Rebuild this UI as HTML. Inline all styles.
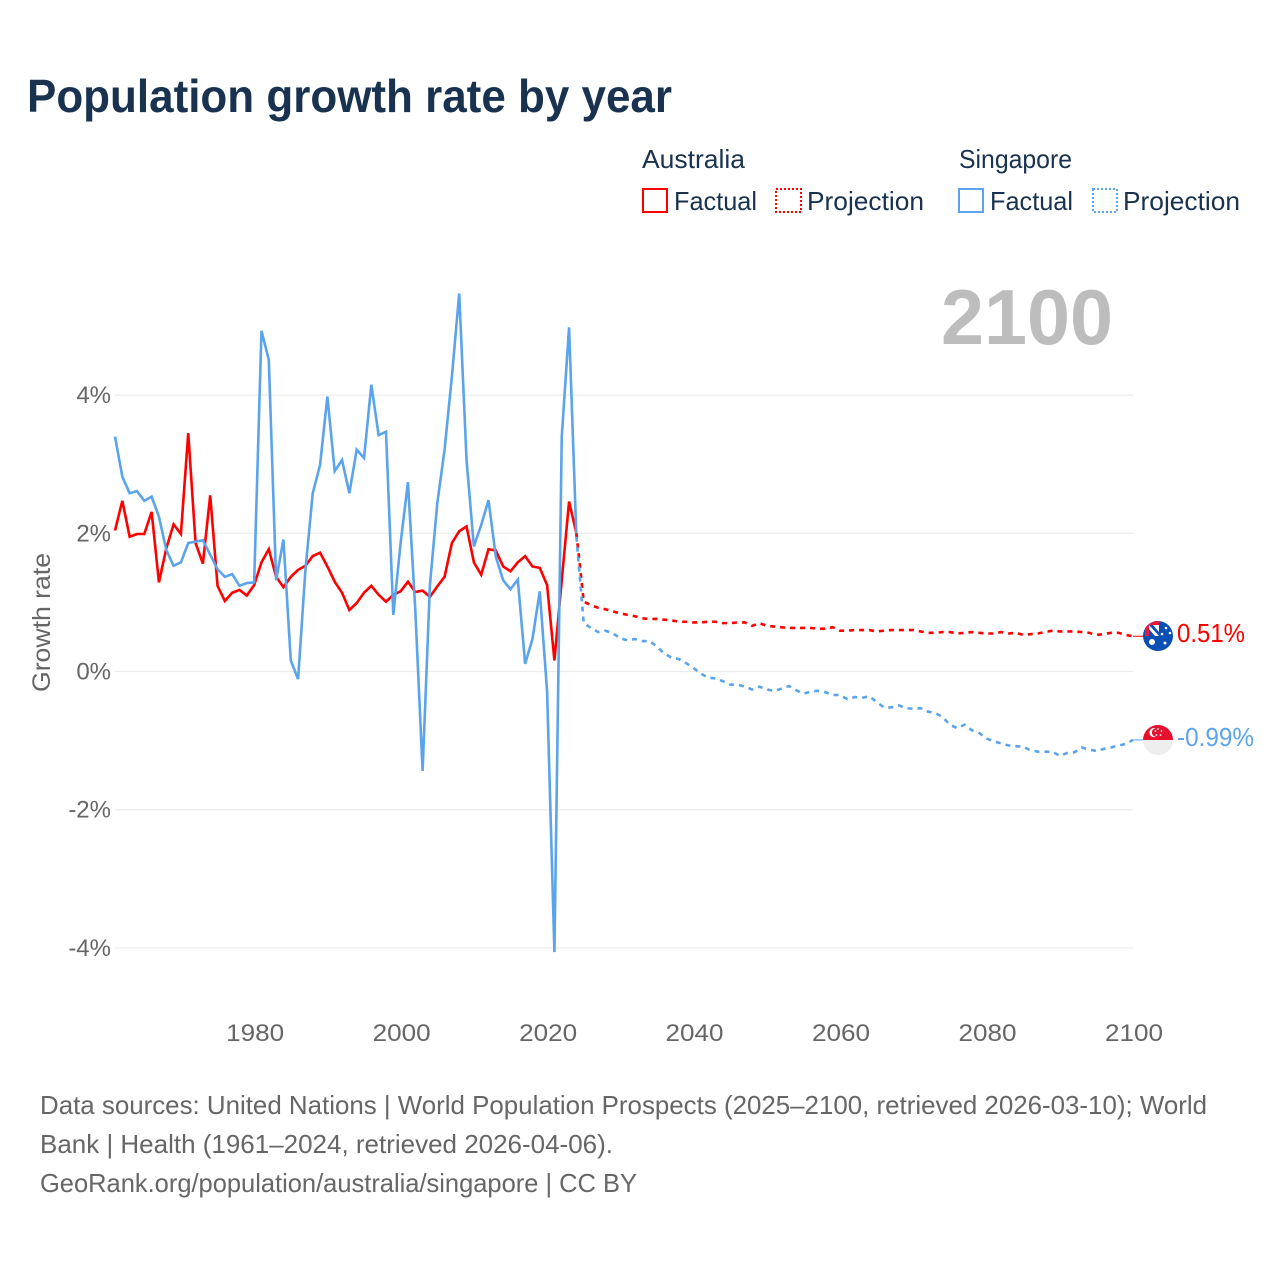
<!DOCTYPE html>
<html lang="en">
<head>
<meta charset="utf-8">
<title>Population growth rate by year</title>
<style>
html,body{margin:0;padding:0;background:#fff;width:1280px;height:1280px;overflow:hidden}
svg{display:block}
text{font-family:"Liberation Sans",sans-serif}
</style>
</head>
<body>
<svg id="chart" xmlns="http://www.w3.org/2000/svg" width="1280" height="1280" viewBox="0 0 1280 1280">
  <defs>
    <clipPath id="clip-au"><circle cx="1158" cy="636" r="15"/></clipPath>
    <clipPath id="clip-sg"><circle cx="1158" cy="740" r="15"/></clipPath>
  </defs>
  <rect x="0" y="0" width="1280" height="1280" fill="#fff"/>
  <text x="27" y="112" font-size="46" font-weight="700" fill="#18324f" textLength="645" lengthAdjust="spacingAndGlyphs">Population growth rate by year</text>

  <g font-size="26" fill="#18324f">
    <text x="642" y="168" textLength="103" lengthAdjust="spacingAndGlyphs">Australia</text>
    <rect x="643" y="189" width="24" height="23" fill="none" stroke="#ff0000" stroke-width="2"/>
    <text x="674" y="210" textLength="83" lengthAdjust="spacingAndGlyphs">Factual</text>
    <rect x="776" y="189" width="25" height="23" fill="none" stroke="#ff0000" stroke-width="2" stroke-dasharray="2 2"/>
    <text x="807" y="210" textLength="117" lengthAdjust="spacingAndGlyphs">Projection</text>
    <text x="959" y="168" textLength="113" lengthAdjust="spacingAndGlyphs">Singapore</text>
    <rect x="959" y="189" width="24" height="23" fill="none" stroke="#5ba4ec" stroke-width="2"/>
    <text x="990" y="210" textLength="83" lengthAdjust="spacingAndGlyphs">Factual</text>
    <rect x="1093" y="189" width="24" height="23" fill="none" stroke="#5ba4ec" stroke-width="2" stroke-dasharray="2 2"/>
    <text x="1123" y="210" textLength="117" lengthAdjust="spacingAndGlyphs">Projection</text>
  </g>

  <text x="941" y="344" font-size="78" font-weight="700" fill="#bdbdbd" textLength="172" lengthAdjust="spacingAndGlyphs">2100</text>
  <text transform="translate(50,692) rotate(-90)" font-size="25" fill="#666" textLength="139" lengthAdjust="spacingAndGlyphs">Growth rate</text>

  <g id="grid"></g>
  <g id="y-axis"></g>
  <g id="x-axis"></g>
  <g id="series"></g>

  <g clip-path="url(#clip-au)">
    <rect x="1143" y="621" width="30" height="30" fill="#0a50b4"/>
    <rect x="1145" y="621" width="14" height="15" fill="#e8173f"/>
    <rect x="1149" y="625" width="10" height="11" fill="#fff"/>
    <path d="M1149 625 L1159 636 V632 L1153 625 Z" fill="#0a50b4"/>
    <path d="M1149 629 V636 H1155 Z" fill="#0a50b4"/>
    <circle cx="1152" cy="642" r="3" fill="#fff"/>
    <circle cx="1166" cy="628" r="1.3" fill="#fff"/>
    <circle cx="1162" cy="634" r="1.3" fill="#fff"/>
    <circle cx="1170" cy="633" r="1.3" fill="#fff"/>
    <circle cx="1165" cy="643" r="1.5" fill="#fff"/>
  </g>
  <g clip-path="url(#clip-sg)">
    <rect x="1143" y="725" width="30" height="15" fill="#e8112d"/>
    <rect x="1143" y="740" width="30" height="15" fill="#eeeeee"/>
    <circle cx="1154" cy="732.5" r="4.6" fill="#fff"/>
    <circle cx="1156" cy="732.5" r="4.2" fill="#e8112d"/>
    <circle cx="1158" cy="729" r="0.9" fill="#fff"/>
    <circle cx="1161.5" cy="731" r="0.9" fill="#fff"/>
    <circle cx="1160.5" cy="735" r="0.9" fill="#fff"/>
    <circle cx="1156.5" cy="735" r="0.9" fill="#fff"/>
    <circle cx="1155.5" cy="731" r="0.9" fill="#fff"/>
  </g>
  <text x="1177" y="642" font-size="26" fill="#ff0000" textLength="68" lengthAdjust="spacingAndGlyphs">0.51%</text>
  <text x="1177" y="746" font-size="26" fill="#5ba4ec" textLength="77" lengthAdjust="spacingAndGlyphs">-0.99%</text>

  <g font-size="26" fill="#666">
    <text x="40" y="1114" textLength="1167" lengthAdjust="spacingAndGlyphs">Data sources: United Nations | World Population Prospects (2025–2100, retrieved 2026-03-10); World</text>
    <text x="40" y="1153" textLength="573" lengthAdjust="spacingAndGlyphs">Bank | Health (1961–2024, retrieved 2026-04-06).</text>
    <text x="40" y="1192" textLength="597" lengthAdjust="spacingAndGlyphs">GeoRank.org/population/australia/singapore | CC BY</text>
  </g>
</svg>
<script>
const factualStartYear = 1961;
const projectionStartYear = 2024;
const yTicks = [4, 2, 0, -2, -4];
const xTicks = [1980, 2000, 2020, 2040, 2060, 2080, 2100];
const australiaFactual = [2.04,2.47,1.95,1.99,1.99,2.31,1.29,1.78,2.13,1.99,3.45,1.86,1.56,2.55,1.24,1.02,1.14,1.18,1.10,1.25,1.58,1.77,1.37,1.22,1.37,1.47,1.53,1.67,1.72,1.52,1.30,1.14,0.89,0.99,1.14,1.24,1.11,1.01,1.11,1.16,1.30,1.15,1.17,1.08,1.23,1.37,1.86,2.03,2.10,1.58,1.40,1.77,1.75,1.52,1.45,1.58,1.67,1.52,1.50,1.25,0.16,1.32,2.46,2.00];
const singaporeFactual = [3.40,2.82,2.58,2.61,2.47,2.53,2.24,1.76,1.53,1.58,1.86,1.88,1.90,1.69,1.48,1.37,1.41,1.24,1.28,1.29,4.93,4.51,1.32,1.91,0.16,-0.11,1.47,2.58,2.99,3.98,2.90,3.06,2.58,3.21,3.09,4.15,3.42,3.47,0.82,1.86,2.74,0.90,-1.44,1.25,2.43,3.21,4.27,5.47,3.06,1.81,2.12,2.48,1.66,1.32,1.19,1.33,0.11,0.47,1.16,-0.29,-4.06,3.40,4.98,1.95];
const australiaProjection = [2.00,1.01,0.96,0.92,0.90,0.87,0.84,0.82,0.80,0.77,0.76,0.76,0.75,0.74,0.72,0.72,0.71,0.71,0.72,0.72,0.70,0.70,0.71,0.71,0.66,0.70,0.66,0.65,0.64,0.63,0.63,0.63,0.63,0.62,0.62,0.64,0.59,0.59,0.60,0.60,0.60,0.58,0.59,0.60,0.60,0.60,0.60,0.58,0.56,0.56,0.57,0.57,0.55,0.56,0.57,0.56,0.55,0.55,0.57,0.55,0.56,0.53,0.54,0.55,0.57,0.59,0.58,0.58,0.58,0.57,0.56,0.53,0.54,0.56,0.56,0.53,0.51];
const singaporeProjection = [1.95,0.70,0.63,0.57,0.59,0.55,0.48,0.45,0.47,0.44,0.44,0.36,0.26,0.20,0.18,0.12,0.05,-0.03,-0.09,-0.10,-0.14,-0.19,-0.19,-0.22,-0.26,-0.22,-0.26,-0.28,-0.25,-0.21,-0.27,-0.32,-0.29,-0.28,-0.30,-0.34,-0.34,-0.40,-0.37,-0.38,-0.36,-0.44,-0.52,-0.52,-0.49,-0.53,-0.54,-0.53,-0.58,-0.60,-0.66,-0.77,-0.82,-0.77,-0.85,-0.89,-0.97,-1.01,-1.04,-1.07,-1.08,-1.09,-1.14,-1.16,-1.16,-1.16,-1.22,-1.18,-1.17,-1.10,-1.13,-1.15,-1.12,-1.10,-1.07,-1.05,-0.99];

const SVG_NS = 'http://www.w3.org/2000/svg';
function xScale(year) { return 115 + (year - 1961) * (1133 - 115) / (2100 - 1961); }
function yScale(value) { return 671.5 - value * 69.1; }
function pathFor(values, startYear) {
  return values.map(function (v, i) {
    return (i ? 'L' : 'M') + xScale(startYear + i).toFixed(2) + ' ' + yScale(v).toFixed(2);
  }).join(' ');
}

const grid = document.getElementById('grid');
const yAxis = document.getElementById('y-axis');
yTicks.forEach(function (t) {
  const line = document.createElementNS(SVG_NS, 'line');
  
  
  line.setAttribute('x1', 115);
  line.setAttribute('x2', 1133);
  line.setAttribute('y1', yScale(t));
  line.setAttribute('y2', yScale(t));
  line.setAttribute('stroke', '#ebebeb');
  line.setAttribute('stroke-width', 1.2);
  grid.appendChild(line);
  const label = document.createElementNS(SVG_NS, 'text');
  
  
  label.setAttribute('x', 111);
  label.setAttribute('y', yScale(t) + 8);
  label.setAttribute('text-anchor', 'end');
  label.setAttribute('font-size', 24);
  label.setAttribute('fill', '#666');
  label.textContent = t + '%';
  yAxis.appendChild(label);
});

const xAxis = document.getElementById('x-axis');
xTicks.forEach(function (t) {
  const label = document.createElementNS(SVG_NS, 'text');
  
  
  label.setAttribute('x', xScale(t) + 1);
  label.setAttribute('y', 1041);
  label.setAttribute('text-anchor', 'middle');
  label.setAttribute('font-size', 24);
  label.setAttribute('fill', '#666');
  label.setAttribute('textLength', 58);
  label.setAttribute('lengthAdjust', 'spacingAndGlyphs');
  label.textContent = t;
  xAxis.appendChild(label);
});

const seriesGroup = document.getElementById('series');
function addLine(name, values, startYear, color, dash) {
  const p = document.createElementNS(SVG_NS, 'path');
  
  
  p.setAttribute('d', pathFor(values, startYear));
  p.setAttribute('fill', 'none');
  p.setAttribute('stroke', color);
  p.setAttribute('stroke-width', 2.6);
  p.setAttribute('stroke-linejoin', 'miter');
  if (dash) p.setAttribute('stroke-dasharray', dash);
  seriesGroup.appendChild(p);
}
addLine('australia-factual-line', australiaFactual, factualStartYear, '#ff0000');
addLine('singapore-factual-line', singaporeFactual, factualStartYear, '#5ba4ec');
addLine('australia-projection-line', australiaProjection, projectionStartYear, '#ff0000', '5 5');
addLine('singapore-projection-line', singaporeProjection, projectionStartYear, '#5ba4ec', '5 5');

function addConnector(name, values, color) {
  const last = values[values.length - 1];
  const c = document.createElementNS(SVG_NS, 'line');
  
  
  c.setAttribute('x1', xScale(2100));
  c.setAttribute('x2', 1144);
  c.setAttribute('y1', yScale(last));
  c.setAttribute('y2', yScale(last));
  c.setAttribute('stroke', color);
  c.setAttribute('stroke-width', 1);
  seriesGroup.appendChild(c);
}
addConnector('australia-end-connector', australiaProjection, '#ff0000');
addConnector('singapore-end-connector', singaporeProjection, '#5ba4ec');
</script>
</body>
</html>
